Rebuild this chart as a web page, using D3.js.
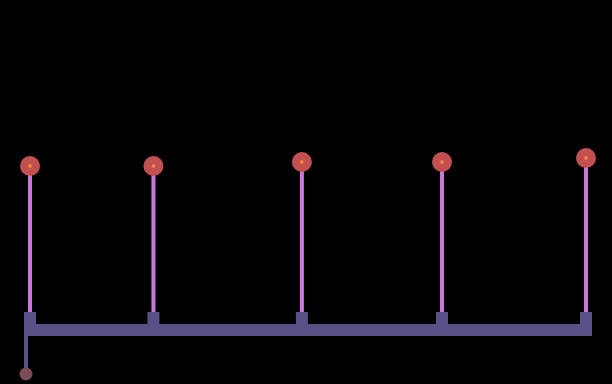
<!DOCTYPE html>
<html>
<head>
<meta charset="utf-8">
<script src="https://cdn.jsdelivr.net/npm/d3@7"></script>
<style>
html,body{margin:0;padding:0;background:#000;}
svg{display:block;}
</style>
</head>
<body>
<svg id="chart" width="612" height="384"></svg>
<script>
const positions = [0, 22.2, 48.9, 74.1, 100];
const values = [158, 158, 162, 162, 166];
const anchorValue = [-50];

const W = 612, H = 384;
const svg = d3.select("#chart");
svg.append("rect").attr("width", W).attr("height", H).attr("fill", "#000");

const x = d3.scaleLinear().domain([0, 100]).range([30, 586]);
const y = d3.scaleLinear().domain([0, 200]).range([324, 124]);

const barColor = "#575187";
const stemColor = "#c977d9";
const dotColor = "#c35050";
const coreColor = "#f5922f";

// baseline bar
svg.append("rect")
  .attr("x", x(0) - 6).attr("y", y(0))
  .attr("width", x(100) - x(0) + 12).attr("height", 12)
  .attr("fill", barColor);

// anchor stem going down on the left
svg.append("rect")
  .attr("x", x(0) - 6).attr("y", y(0) + 12)
  .attr("width", 4).attr("height", y(anchorValue[0]) - 4 - (y(0) + 12))
  .attr("fill", barColor);
svg.append("circle")
  .attr("cx", x(0) - 4).attr("cy", y(anchorValue[0]))
  .attr("r", 6.5).attr("fill", "#7b4c55");

const g = svg.append("g");
const items = positions.map((p, i) => ({p, v: values[i]}));

// tick squares
g.selectAll("rect.tick").data(items).join("rect")
  .attr("class", "tick")
  .attr("x", d => x(d.p) - 6).attr("y", y(0) - 12)
  .attr("width", 12).attr("height", 12)
  .attr("fill", barColor);

// stems
g.selectAll("rect.stem").data(items).join("rect")
  .attr("class", "stem")
  .attr("x", d => x(d.p) - 2).attr("y", d => y(d.v))
  .attr("width", 4).attr("height", d => (y(0) - 12) - y(d.v))
  .attr("fill", stemColor);

// heads
g.selectAll("circle.head").data(items).join("circle")
  .attr("class", "head")
  .attr("cx", d => x(d.p)).attr("cy", d => y(d.v))
  .attr("r", 10).attr("fill", dotColor);

g.selectAll("rect.core").data(items).join("rect")
  .attr("class", "core")
  .attr("x", d => x(d.p) - 1.5).attr("y", d => y(d.v) - 1.5)
  .attr("width", 3).attr("height", 3)
  .attr("fill", coreColor);
</script>
</body>
</html>
